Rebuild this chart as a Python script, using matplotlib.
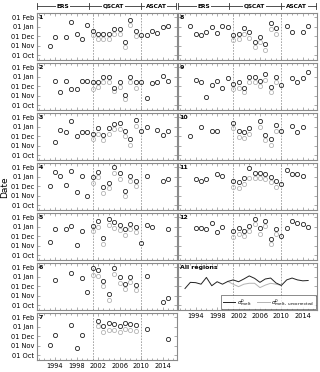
import numpy as np
import matplotlib
matplotlib.use('Agg')
import matplotlib.pyplot as plt
from matplotlib.ticker import FixedLocator, MultipleLocator
import matplotlib.transforms as mtrans

nan = np.nan
years = list(range(1992, 2016))
qscat_years = list(range(2001, 2010))
unc_line_years = list(range(2000, 2011))

# values: days since 01 Oct
r1 = [nan, 30, 59, nan, 59, 108, 68, 51, 97, 78, 70, 70, 70, 86, 86, 43, 113, 77, 64, 67, 78, 72, 91, 95]
u1 = [64, 51, 51, 51, 70, 70, 26, 97, 61]
r2 = [nan, nan, 78, 43, 78, 51, 51, 78, 78, 75, 75, 91, 91, 57, 75, 34, 91, 75, 75, 22, 72, 75, 94, 78]
u2 = [53, 58, 75, 75, 45, 60, 19, 75, 57]
r3 = [nan, nan, 44, 82, 74, 112, 63, 74, 74, 68, 87, 66, 87, 101, 103, 79, 52, 114, 79, 93, nan, 82, 66, 80]
u3 = [52, 68, 48, 70, 85, 85, 63, 32, 95]
r4 = [nan, 62, 109, 95, 64, 112, 44, 96, 30, 92, 109, 58, 73, 123, 103, 45, 95, 80, nan, 95, nan, nan, 80, 85]
u4 = [73, 90, 39, 55, 106, 86, 28, 77, 62]
r5 = [nan, 44, 84, nan, 84, 95, 33, 77, nan, 95, 111, 55, 116, 108, 97, 84, 101, 92, 38, 97, 92, nan, nan, 84]
u5 = [77, 92, 36, 97, 88, 81, 66, 86, 75]
r6 = [nan, nan, 82, nan, nan, 103, nan, 87, 41, 120, 115, 78, 36, 120, 90, 70, 92, 67, nan, 95, nan, nan, 9, 23]
u6 = [99, 95, 61, 17, 101, 73, 53, 74, 50]
r7 = [nan, 34, 67, nan, nan, 97, 22, 64, nan, nan, 112, 94, 103, 100, 94, 106, 100, 99, nan, 86, nan, nan, nan, 53]
u7 = [nan, 95, 75, 83, 83, 75, 86, 83, 80]
r8 = [nan, 96, 68, 65, 74, 92, 71, 96, 92, 66, 70, 88, 74, 44, 60, 35, 103, 88, nan, 96, 76, nan, 74, 96]
u8 = [49, 52, 70, 57, 27, 44, 16, 85, 70]
r9 = [nan, nan, 82, 74, 26, 66, 79, 55, 87, 70, 74, 55, 90, 90, 79, 101, 59, 93, 66, nan, 88, 76, 88, 107]
u9 = [52, 55, 41, 74, 74, 63, 82, 44, 76]
r10 = [nan, 63, nan, 92, nan, 79, 77, nan, nan, 103, 77, 74, 88, nan, 112, 66, 52, 98, 77, nan, 96, 74, 92, nan]
u10 = [87, 60, 55, 70, nan, 93, 49, 33, 79]
r11 = [nan, nan, 85, 78, 85, nan, 101, 94, nan, 78, 76, 89, 120, 105, 105, 100, 92, 78, 70, 114, 101, 100, 96, nan]
u11 = [59, 57, 70, 89, 89, 89, 85, 76, 59]
r12 = [nan, nan, 87, 87, 85, 103, 76, 90, nan, 78, 87, 78, 96, 118, 87, 111, 52, 85, 61, 87, 111, 103, 100, 92]
u12 = [59, 70, 61, 79, 101, 70, 94, 35, 68]

all_melt = [54, 74, 73, 68, 90, 63, 76, 68, 77, 82, 76, 85, 95, 87, 74, 85, 88, 72, 64, 82, 88, 82, 79, 80]
all_unc = [77, 68, 60, 68, 71, 71, 57, 65, 71, 68, 64]

ytick_vals = [0, 31, 61, 92, 123]
ytick_labels = ['01 Oct', '01 Nov', '01 Dec', '01 Jan', '01 Feb']
xtick_vals = [1994, 1998, 2002, 2006, 2010, 2014]
sensor_breaks = [2001, 2010]
sensors = ['ERS', 'QSCAT', 'ASCAT']
sensor_label_x = [1995.5, 2004.9, 2012.8]
header_bars = [1990.6, 2000.3, 2010.0, 2016.4]

regions = [(r1, u1), (r2, u2), (r3, u3), (r4, u4), (r5, u5), (r6, u6), (r7, u7),
           (r8, u8), (r9, u9), (r10, u10), (r11, u11), (r12, u12)]

W, H = 320, 372
fig = plt.figure(figsize=(W / 100, H / 100), dpi=100)
GRAY = '#b4b4b4'
SPINE = '#8a8a8a'


def make_ax(x0, x1, r):
    top = 13 + 50 * r
    return fig.add_axes([x0 / W, 1 - (top + 47) / H, (x1 - x0) / W, 47 / H])


def style(ax, left, bottom):
    ax.set_xlim(1990.6, 2016.6)
    ax.set_ylim(-16, 137)
    ax.xaxis.set_major_locator(FixedLocator(xtick_vals))
    ax.xaxis.set_minor_locator(MultipleLocator(1))
    ax.yaxis.set_major_locator(FixedLocator(ytick_vals))
    ax.tick_params(which='both', direction='in', top=True, right=True,
                   color=SPINE, width=0.5, labelsize=4.8, pad=2)
    ax.tick_params(axis='y', pad=1.8)
    ax.tick_params(which='major', length=2)
    ax.tick_params(which='minor', length=1.2)
    if left:
        ax.set_yticklabels(ytick_labels)
    else:
        ax.set_yticklabels([])
    if not bottom:
        ax.set_xticklabels([])
    for s in ax.spines.values():
        s.set_color(SPINE)
        s.set_linewidth(0.8)
    for b in sensor_breaks:
        ax.axvline(b, color='#999999', lw=0.6, ls=(0, (2, 1.5)), zorder=1)


def header(ax):
    tr = mtrans.blended_transform_factory(ax.transData, ax.transAxes)
    yh = 1 + 7 / 47
    ax.plot([header_bars[0], header_bars[-1]], [yh, yh], color='#333333', lw=0.6,
            transform=tr, clip_on=False)
    for xb in header_bars:
        ax.plot([xb, xb], [yh - 0.06, yh + 0.06], color='#333333', lw=0.6,
                transform=tr, clip_on=False)
    for name, xl in zip(sensors, sensor_label_x):
        ax.text(xl, yh, name, transform=tr, ha='center', va='center', fontsize=4.2,
                fontweight='bold', bbox=dict(facecolor='white', edgecolor='none', pad=0.6))


axes = []
for i in range(7):
    ax = make_ax(36.7, 176.7, i)
    style(ax, True, i == 6)
    axes.append(ax)
for i in range(6):
    ax = make_ax(177.5, 316.7, i)
    style(ax, False, i == 5)
    axes.append(ax)

for k, (vals, unc) in enumerate(regions):
    ax = axes[k]
    ax.plot(qscat_years, unc, ls='none', marker='o', ms=3, mfc='none', mec=GRAY, mew=0.6, zorder=2)
    ax.plot(years, vals, ls='none', marker='o', ms=3, mfc='none', mec='#222222', mew=0.6, zorder=3)
    ax.text(0.015, 0.96, str(k + 1), transform=ax.transAxes, ha='left', va='top',
            fontsize=4.5, fontweight='bold')

axa = axes[12]
axa.plot(years, all_melt, color='#222222', lw=0.7, label=r'$\sigma^0_{\rm melt}$', zorder=3)
axa.plot(unc_line_years, all_unc, color=GRAY, lw=0.7, label=r'$\sigma^0_{\rm melt,\ uncorrected}$', zorder=2)
axa.text(0.015, 0.96, 'All regions', transform=axa.transAxes, ha='left', va='top',
         fontsize=4.5, fontweight='bold')
leg = axa.legend(loc='lower right', ncol=2, fontsize=4.2, frameon=True, fancybox=False,
                 edgecolor='#333333', handlelength=2.2, handletextpad=0.3,
                 columnspacing=0.8, borderpad=0.25, borderaxespad=0.15)
leg.get_frame().set_linewidth(0.5)

header(axes[0])
header(axes[7])

fig.text(5 / W, 1 - 187 / H, 'Date', rotation=90, ha='center', va='center', fontsize=6.5)

fig.savefig('out.png', dpi=100)
